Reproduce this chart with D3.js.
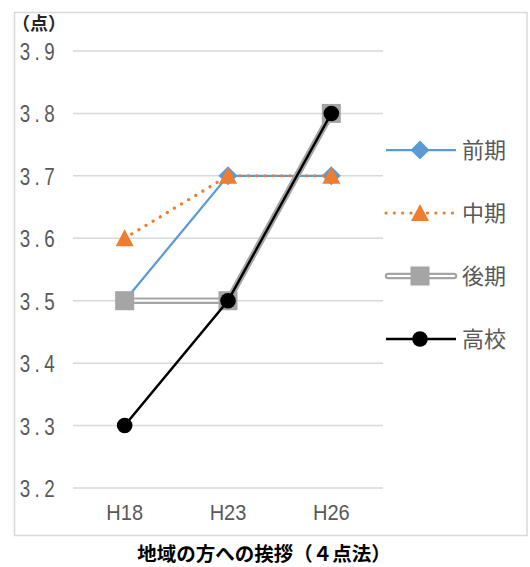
<!DOCTYPE html>
<html><head><meta charset="utf-8">
<script src="https://cdn.jsdelivr.net/npm/d3@7"></script>
<style>
html,body{margin:0;padding:0;background:#fff;}
svg{display:block;}
</style></head>
<body>
<svg id="chart" width="530" height="567"></svg>
<script>
const categories = ["H18", "H23", "H26"];
const seriesNames = ["前期", "中期", "後期", "高校"];
const zenki = [3.5, 3.7, 3.7];
const chuki = [3.6, 3.7, 3.7];
const koki = [3.5, 3.5, 3.8];
const koko = [3.3, 3.5, 3.8];
const yTicks = [3.2, 3.3, 3.4, 3.5, 3.6, 3.7, 3.8, 3.9];
const unitLabel = "（点）";
const title = "地域の方への挨拶（４点法）";

const svg = d3.select("#chart");
const numFont = "'Liberation Sans',Arial,sans-serif";
const jpFont = "'Noto Sans CJK JP','Noto Sans',sans-serif";

// frame
svg.append("rect").attr("x", 14.5).attr("y", 12.5).attr("width", 512.5).attr("height", 523)
  .attr("fill", "#fff").attr("stroke", "#d9d9d9").attr("stroke-width", 1.5);

const x = d3.scaleBand().domain(categories).range([73, 383]);
const y = d3.scaleLinear().domain([3.2, 3.9]).range([488, 51]);

// gridlines
svg.append("g").selectAll("line").data(yTicks).join("line")
  .attr("x1", 73).attr("x2", 383)
  .attr("y1", d => y(d)).attr("y2", d => y(d))
  .attr("stroke", "#d9d9d9").attr("stroke-width", 1.5);

// y axis labels
const yAxis = d3.axisLeft(y).tickValues(yTicks).tickFormat(d3.format(".1f")).tickSize(0).tickPadding(0);
const yg = svg.append("g").attr("transform", "translate(59,0)").call(yAxis);
yg.select(".domain").remove();
yg.selectAll("text").attr("font-family", numFont).attr("font-size", 23.5)
  .attr("fill", "#595959").attr("letter-spacing", "5.5px").attr("dy", "0.36em")
  .attr("transform", "scale(0.8,1)");

// x axis labels
const xAxis = d3.axisBottom(x).tickSize(0).tickPadding(0);
const xg = svg.append("g").attr("transform", "translate(0,504)").call(xAxis);
xg.select(".domain").remove();
xg.selectAll("text").attr("font-family", numFont).attr("font-size", 22.5)
  .attr("fill", "#595959").attr("dy", "0.71em").attr("y", 0)
  .attr("transform", "scale(0.89,1)");

const cx = c => x(c) + x.bandwidth() / 2;
const line = d3.line().x((d, i) => cx(categories[i])).y(d => y(d));

const series = [
  {name: seriesNames[0], values: zenki},
  {name: seriesNames[1], values: chuki},
  {name: seriesNames[2], values: koki},
  {name: seriesNames[3], values: koko}
];

function drawLine(g, idx, d) {
  if (idx === 0) {
    g.append("path").attr("d", d).attr("fill", "none").attr("stroke", "#5B9BD5").attr("stroke-width", 2.25);
  } else if (idx === 1) {
    g.append("path").attr("d", d).attr("fill", "none").attr("stroke", "#ED7D31").attr("stroke-width", 3.2)
      .attr("stroke-dasharray", "0.1 8.2").attr("stroke-linecap", "round");
  } else if (idx === 2) {
    g.append("path").attr("d", d).attr("fill", "none").attr("stroke", "#A5A5A5").attr("stroke-width", 6.5).attr("stroke-linecap", "round").attr("stroke-linejoin", "round");
    g.append("path").attr("d", d).attr("fill", "none").attr("stroke", "#fff").attr("stroke-width", 2.2).attr("stroke-linecap", "round").attr("stroke-linejoin", "round");
  } else {
    g.append("path").attr("d", d).attr("fill", "none").attr("stroke", "#000").attr("stroke-width", 2.5);
  }
}
function diamondPath(w, h) { return `M0,${-h} L${w},0 L0,${h} L${-w},0 Z`; }
function drawMarker(g, idx, px, py) {
  if (idx === 0) {
    g.append("path").attr("d", diamondPath(9.5, 9.5)).attr("transform", `translate(${px},${py})`).attr("fill", "#5B9BD5");
  } else if (idx === 1) {
    g.append("path").attr("d", `M0,-9 L9,8 L-9,8 Z`).attr("transform", `translate(${px},${py})`).attr("fill", "#ED7D31");
  } else if (idx === 2) {
    g.append("rect").attr("x", px - 9.5).attr("y", py - 9.5).attr("width", 19).attr("height", 19).attr("fill", "#A5A5A5");
  } else {
    g.append("circle").attr("cx", px).attr("cy", py).attr("r", 7.8).attr("fill", "#000");
  }
}

series.forEach((s, i) => {
  const g = svg.append("g");
  drawLine(g, i, line(s.values));
  s.values.forEach((v, j) => drawMarker(g, i, cx(categories[j]), y(v)));
});

// legend
const legendY = [150, 213, 276, 339];
series.forEach((s, i) => {
  const g = svg.append("g");
  const ly = legendY[i];
  drawLine(g, i, `M${i===2?388:386},${ly} L${i===2?454:456},${ly}`);
  drawMarker(g, i, 420, ly);
  g.append("text").attr("x", 462).attr("y", ly).attr("dy", "0.36em")
    .attr("font-family", jpFont).attr("font-size", 22).attr("fill", "#595959").text(s.name);
});

// unit label
svg.append("text").attr("x", 12).attr("y", 30).attr("font-family", jpFont).attr("font-size", 18)
  .attr("font-weight", "bold").attr("fill", "#262626").text(unitLabel);

// title
svg.append("text").attr("x", 264).attr("y", 561).attr("text-anchor", "middle")
  .attr("font-family", jpFont).attr("font-size", 19.5).attr("font-weight", "bold").attr("fill", "#000").text(title);
</script>
</body></html>
